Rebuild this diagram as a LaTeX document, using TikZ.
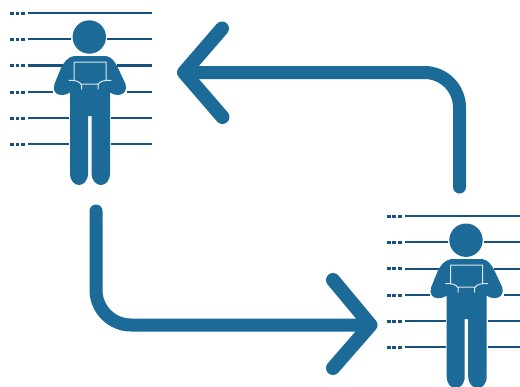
\documentclass[tikz,border=0pt]{standalone}
\definecolor{figblue}{HTML}{1B6A98}
\definecolor{linedark}{HTML}{17517F}
\tikzset{
  x=1pt,y=-1pt,
  rule/.style={draw=linedark,line width=2.4pt},
  tick/.style={fill=linedark},
  figure/.style={fill=figblue,draw=none},
  tablet/.style={draw=white!85!figblue,line width=1pt,line join=round,line cap=round},
  arrowline/.style={draw=figblue,line width=13pt,line cap=round,line join=miter},
  arrowhead/.style={arrowline,line width=14pt,line join=round}
}
\newcommand{\persondraw}[4]{%
% #1 x offset, #2 y offset, #3 right end of rules, #4 rule start
\begin{scope}[shift={(#1,#2)}]
 \foreach \yy in {13,39,65.5,92,118,144}{
   \draw[rule] (#4,\yy) -- (#3,\yy);
   \foreach \xx in {12,17.5,23}{\fill[tick] (\xx-1.8,\yy-1.5) rectangle (\xx+1.8,\yy+1.5);}
 }
 \fill[white] (71,28) rectangle (107,60);
 \fill[white] (65,60) rectangle (117,70);
 \fill[white] (53,85) rectangle (127,96);
 \fill[white] (69,96) rectangle (111,160);
 \fill[figure] (89.3,37) circle (16.7);
 \fill[figure] (74,56) -- (106,56)
   .. controls (112,57) and (115,62) .. (118,68)
   -- (125.5,84) .. controls (127.5,90) and (124,95) .. (118,95)
   .. controls (115,95) and (112.5,94) .. (110,92.5)
   -- (110,173) .. controls (110,189) and (92,189) .. (91.5,173)
   -- (91.5,116) -- (88,116) -- (88,173)
   .. controls (88,189) and (70,189) .. (70,173)
   -- (70,92.5) .. controls (67.5,94) and (65,95) .. (61,95)
   .. controls (55,95) and (52.5,90) .. (54.5,84)
   -- (61,68) .. controls (64,62) and (68,57) .. (74,56) -- cycle;
 \draw[tablet] (69,80.5) .. controls (74,80) and (80,81) .. (81.5,85) -- (81.5,89)
   (74,80) -- (74,62) -- (106,62) -- (106,80)
   (81.5,84) -- (98,84)
   (111,80.5) .. controls (105,80) and (99,81) .. (98,85) -- (98,89);
\end{scope}}
\begin{document}
\begin{tikzpicture}
\useasboundingbox[fill=white] (0,0) rectangle (520,386);
\coordinate (a1) at (459.5,187);
\coordinate (acorner) at (459.5,72.5);
\coordinate (atip) at (184,72.5);
\coordinate (atop) at (222,28.5);
\coordinate (abot) at (222.5,117);
\coordinate (b1) at (96,211);
\coordinate (bcorner) at (96,325);
\coordinate (btip) at (370.5,325);
\coordinate (btop) at (333,280);
\coordinate (bbot) at (333,368);
\persondraw{0}{0}{152}{28}
\begin{scope}
\clip (0,0) rectangle (520,386);
\persondraw{376.7}{203.2}{143.3}{28}
\end{scope}
\draw[arrowline,rounded corners=35pt] (a1) -- (acorner) -- (atip);
\draw[arrowhead] (atop) -- (atip) -- (abot);
\draw[arrowline,rounded corners=35pt] (b1) -- (bcorner) -- (btip);
\draw[arrowhead] (btop) -- (btip) -- (bbot);
\end{tikzpicture}
\end{document}
